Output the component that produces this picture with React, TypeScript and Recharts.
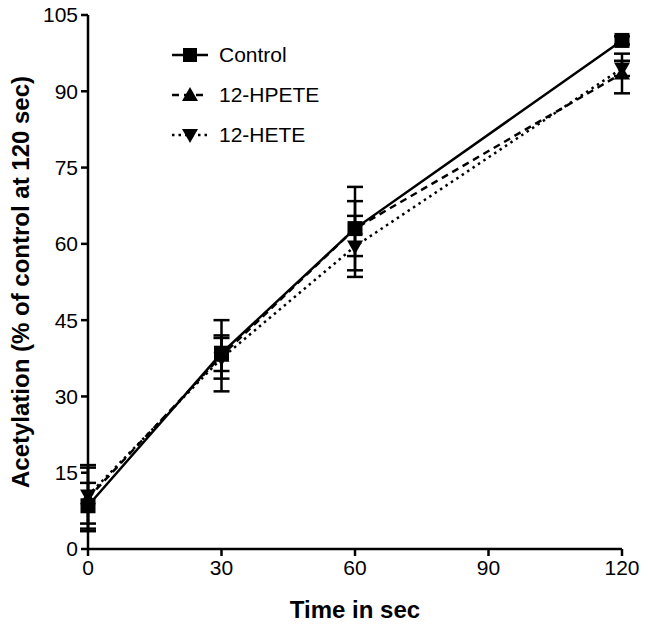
import React from "react";
import { LineChart, Line, XAxis, YAxis, ErrorBar, Legend } from "recharts";

const times = [0, 30, 60, 120];
const control = [8.5, 38.5, 63, 100];
const controlErr = [4.5, 3.5, 5.4, 0.8];
const hpete = [10, 38, 63, 93.5];
const hpeteErr = [6.5, 7, 8.2, 3.9];
const hete = [10.5, 37.5, 59.5, 94.5];
const heteErr = [5.5, 4, 6, 1.5];

const xTicks = [0, 30, 60, 90, 120];
const yTicks = [0, 15, 30, 45, 60, 75, 90, 105];

const data = times.map((t, i) => ({
  t,
  control: control[i],
  controlErr: controlErr[i],
  hpete: hpete[i],
  hpeteErr: hpeteErr[i],
  hete: hete[i],
  heteErr: heteErr[i],
}));

const FONT = '"Liberation Sans", Arial, sans-serif';

const Square = (p: any) => {
  if (p.cx == null || p.cy == null) return <g key={p.index} />;
  return <rect key={p.index} x={p.cx - 7.5} y={p.cy - 7.5} width={15} height={15} fill="#000" />;
};
const TriUp = (p: any) => {
  if (p.cx == null || p.cy == null) return <g key={p.index} />;
  const { cx, cy } = p;
  return <polygon key={p.index} points={`${cx - 8},${cy + 6} ${cx + 8},${cy + 6} ${cx},${cy - 8}`} fill="#000" />;
};
const TriDown = (p: any) => {
  if (p.cx == null || p.cy == null) return <g key={p.index} />;
  const { cx, cy } = p;
  return <polygon key={p.index} points={`${cx - 8},${cy - 6} ${cx + 8},${cy - 6} ${cx},${cy + 8}`} fill="#000" />;
};

const legendItems = [
  { label: "Control", dash: undefined, shape: "square" },
  { label: "12-HPETE", dash: "7 5", shape: "up" },
  { label: "12-HETE", dash: "2.5 4", shape: "down" },
];

const LegendBox = () => (
  <div style={{ fontFamily: FONT, fontSize: 21, color: "#000" }}>
    {legendItems.map((l) => (
      <div key={l.label} style={{ display: "flex", alignItems: "center", height: 40 }}>
        <svg width={46} height={20}>
          <line x1={2} y1={10} x2={38} y2={10} stroke="#000" strokeWidth={2.5} strokeDasharray={l.dash} />
          {l.shape === "square" && <rect x={13} y={3} width={14} height={14} fill="#000" />}
          {l.shape === "up" && <polygon points="12,16 28,16 20,2" fill="#000" />}
          {l.shape === "down" && <polygon points="12,4 28,4 20,18" fill="#000" />}
        </svg>
        <span style={{ marginLeft: 3 }}>{l.label}</span>
      </div>
    ))}
  </div>
);

export default function App() {
  const tick = { fontSize: 21, fill: "#000", fontFamily: FONT };
  return (
    <div style={{ position: "absolute", left: 0, top: 0, background: "#fff" }}>
      <LineChart width={649} height={626} data={data} margin={{ top: 15, right: 27, bottom: 0, left: 0 }}>
        <XAxis
          type="number"
          dataKey="t"
          domain={[0, 120]}
          ticks={xTicks}
          tick={tick}
          tickSize={7}
          tickMargin={4}
          height={77}
          axisLine={{ stroke: "#000", strokeWidth: 2.5 }}
          tickLine={{ stroke: "#000", strokeWidth: 2.5 }}
          label={{ value: "Time in sec", position: "insideBottom", offset: 8, style: { fontSize: 24, fontWeight: 700, fill: "#000", fontFamily: FONT } }}
        />
        <YAxis
          type="number"
          domain={[0, 105]}
          ticks={yTicks}
          tick={tick}
          tickSize={7}
          tickMargin={3}
          width={88}
          axisLine={{ stroke: "#000", strokeWidth: 2.5 }}
          tickLine={{ stroke: "#000", strokeWidth: 2.5 }}
          label={{
            value: "Acetylation (% of control at 120 sec)",
            angle: -90,
            position: "insideLeft",
            offset: 20,
            style: { fontSize: 24, fontWeight: 700, fill: "#000", fontFamily: FONT, textAnchor: "middle" },
          }}
        />
        <Legend
          layout="vertical"
          verticalAlign="middle"
          align="center"
          content={() => <LegendBox />}
          wrapperStyle={{ left: 170, top: 35, width: 200 }}
        />
        <Line dataKey="hete" stroke="#000" strokeWidth={2.5} strokeDasharray="2.5 4" dot={TriDown} activeDot={false} isAnimationActive={false}>
          <ErrorBar dataKey="heteErr" width={8} stroke="#000" strokeWidth={2.5} direction="y" isAnimationActive={false} />
        </Line>
        <Line dataKey="hpete" stroke="#000" strokeWidth={2.5} strokeDasharray="7 5" dot={TriUp} activeDot={false} isAnimationActive={false}>
          <ErrorBar dataKey="hpeteErr" width={8} stroke="#000" strokeWidth={2.5} direction="y" isAnimationActive={false} />
        </Line>
        <Line dataKey="control" stroke="#000" strokeWidth={2.5} dot={Square} activeDot={false} isAnimationActive={false}>
          <ErrorBar dataKey="controlErr" width={8} stroke="#000" strokeWidth={2.5} direction="y" isAnimationActive={false} />
        </Line>
      </LineChart>
    </div>
  );
}
